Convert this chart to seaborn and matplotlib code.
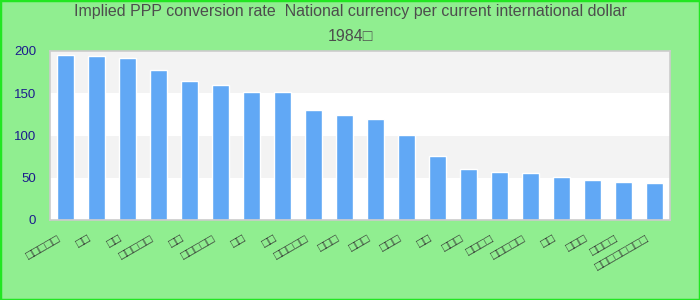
import matplotlib
matplotlib.use("Agg")
import matplotlib.pyplot as plt
import matplotlib.transforms as mtransforms
from matplotlib.patches import Rectangle
import seaborn as sns
import pandas as pd

# ---- data ----
title_line1 = "Implied PPP conversion rate  National currency per current international dollar"
title_line2 = "1984\u25a1"
labels = ["□□□□□", "□□", "□□", "□□□□□", "□□", "□□□□□", "□□", "□□", "□□□□□", "□□□",
          "□□□", "□□□", "□□", "□□□", "□□□□", "□□□□□", "□□", "□□□", "□□□□", "□□□□□□□□"]
values = [195.3, 194.1, 191.7, 177.5, 164.5, 159.8, 151.5, 151.5, 130.2, 124.3,
          119.5, 100.6, 75.7, 60.4, 56.8, 55.6, 50.9, 47.3, 45.0, 43.8]
yticks = [0, 50, 100, 150, 200]

df = pd.DataFrame({"pos": list(range(len(values))), "value": values})

sns.set_theme(style="white")
plt.rcParams["font.family"] = ["Liberation Sans", "DejaVu Sans"]

fig = plt.figure(figsize=(7, 3), dpi=100, facecolor="#90ee90")
ax = fig.add_axes([50 / 700, 80 / 300, 620 / 700, 169 / 300])
ax.set_facecolor("white")

# alternating bands
for lo, hi in zip(yticks[1::2], yticks[2::2]):
    ax.axhspan(lo, hi, color="#f3f3f3", zorder=0, lw=0)

sns.barplot(data=df, x="pos", y="value", color="#61a8f5", width=0.55,
            saturation=1, ax=ax, zorder=2)

ax.set_xlim(-0.5, len(values) - 0.5)
ax.set_ylim(0, 200)
ax.set_yticks(yticks)
ax.set_xlabel("")
ax.set_ylabel("")
ax.set_xticks(range(len(labels)))
ax.tick_params(axis="x", length=0, pad=9.5)
ax.tick_params(axis="y", length=0, pad=10, labelsize=9.5, labelcolor="#1c1c8c")
ax.set_xticklabels(labels, rotation=30, ha="right", va="top",
                   rotation_mode="anchor", fontsize=9, color="#333333")
offset = mtransforms.ScaledTranslation(-9 / 100, 0, fig.dpi_scale_trans)
for t in ax.get_xticklabels():
    t.set_transform(t.get_transform() + offset)
for s in ax.spines.values():
    s.set_color("#cccccc")
    s.set_linewidth(1.2)
    s.set_visible(True)

fig.text(0.5, 1 - 4 / 300, title_line1 + "\n" + title_line2, ha="center", va="top",
         fontsize=11.5, color="#4d4d4d", linespacing=1.85)

fig.patches.append(Rectangle((0, 0), 1, 1, transform=fig.transFigure,
                             fill=False, edgecolor="#22e622", linewidth=2.5))

fig.savefig("out.png", dpi=100, facecolor=fig.get_facecolor())
